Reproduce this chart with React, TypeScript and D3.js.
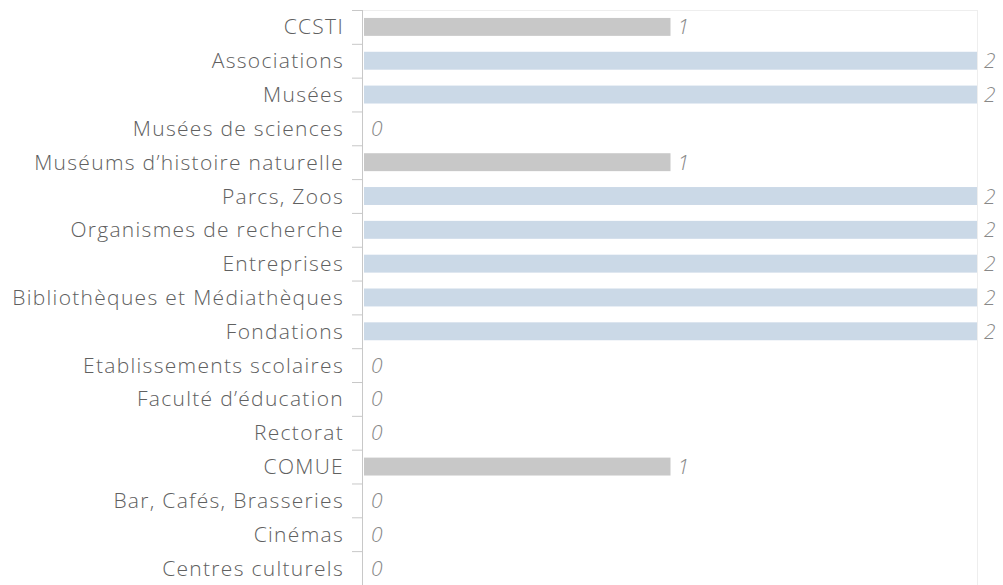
import React from "react";
import * as d3 from "d3";

const categories = [
  "CCSTI",
  "Associations",
  "Musées",
  "Musées de sciences",
  "Muséums d’histoire naturelle",
  "Parcs, Zoos",
  "Organismes de recherche",
  "Entreprises",
  "Bibliothèques et Médiathèques",
  "Fondations",
  "Etablissements scolaires",
  "Faculté d’éducation",
  "Rectorat",
  "COMUE",
  "Bar, Cafés, Brasseries",
  "Cinémas",
  "Centres culturels",
];
const values = [1, 2, 2, 0, 1, 2, 2, 2, 2, 2, 0, 0, 0, 1, 0, 0, 0];
const xDomain = [0, 2];

const W = 1003;
const H = 585;
const left = 364;
const right = 977;
const top = 10;
const bandStep = 33.82;

export default function App() {
  const x = d3.scaleLinear().domain(xDomain).range([left, right]);
  const y = d3
    .scaleBand<string>()
    .domain(categories)
    .range([top, top + bandStep * categories.length])
    .paddingInner(0.47)
    .paddingOuter(0.235);
  const font = "'Open Sans', sans-serif";
  const color = (v: number) => (v >= 2 ? "#cbd9e7" : "#c8c8c8");
  const step = y.step();
  return (
    <svg
      width={W}
      height={H}
      style={{ position: "absolute", left: 0, top: 0 }}
    >
      <rect x={0} y={0} width={W} height={H} fill="#fff" />
      <line x1={left - 1} x2={right} y1={top + 0.5} y2={top + 0.5} stroke="#eeeeee" />
      <line x1={right + 0.5} x2={right + 0.5} y1={top} y2={H} stroke="#eeeeee" />
      <line x1={left - 1.5} x2={left - 1.5} y1={top} y2={H} stroke="#c8c8c8" />
      {categories.map((c, i) => {
        const bandTop = top + i * step;
        return (
          <line
            key={"t" + i}
            x1={left - 12}
            x2={left - 1}
            y1={bandTop + 0.5}
            y2={bandTop + 0.5}
            stroke="#c8c8c8"
          />
        );
      })}
      {categories.map((c, i) => {
        const yb = y(c)!;
        const cy = yb + y.bandwidth() / 2;
        const v = values[i];
        return (
          <g key={c}>
            {v > 0 && (
              <rect
                x={x(0)}
                y={yb}
                width={x(v) - x(0)}
                height={y.bandwidth()}
                fill={color(v)}
              />
            )}
            <text
              x={left - 20}
              y={cy}
              dy="0.36em"
              textAnchor="end"
              fontFamily={font}
              fontWeight={300}
              fontSize={21}
              letterSpacing={1.3}
              fill="#606060"
            >
              {c}
            </text>
            <text
              x={x(v) + 7}
              y={cy}
              dy="0.36em"
              fontFamily={font}
              fontWeight={300}
              fontStyle="italic"
              fontSize={21}
              fill="#888"
            >
              {v}
            </text>
          </g>
        );
      })}
    </svg>
  );
}
